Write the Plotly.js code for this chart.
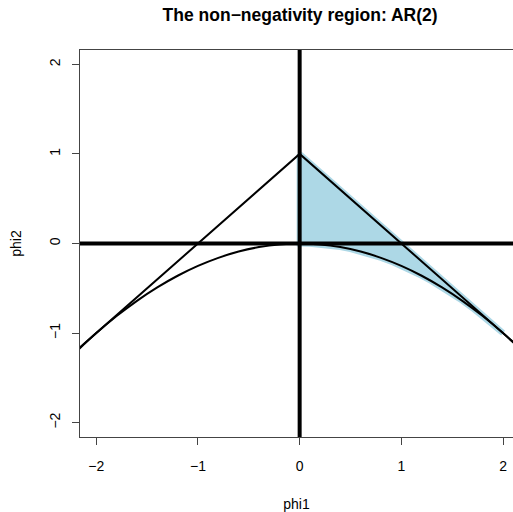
<!DOCTYPE html>
<html>
<head>
<meta charset="utf-8">
<script src="https://cdn.plot.ly/plotly-3.0.1.min.js"></script>
<style>html,body{margin:0;padding:0;background:#fff;}#chart{width:513px;height:512px;}</style>
</head>
<body>
<div id="chart"></div>
<script>
// Boundary curve phi2 = -phi1^2/4
var curveX = [-2.2,-2.0,-1.8,-1.6,-1.4,-1.2,-1.0,-0.8,-0.6,-0.4,-0.2,0,0.2,0.4,0.6,0.8,1.0,1.2,1.4,1.6,1.8,2.0,2.2];
var curveY = [-1.21,-1.0,-0.81,-0.64,-0.49,-0.36,-0.25,-0.16,-0.09,-0.04,-0.01,0,-0.01,-0.04,-0.09,-0.16,-0.25,-0.36,-0.49,-0.64,-0.81,-1.0,-1.21];
// Triangle boundary
var triX = [-2.2, 0, 2.2];
var triY = [-1.2, 1, -1.2];
// Shaded non-negativity region
var regionX = [0, 0, 0.1,0.2,0.3,0.4,0.5,0.6,0.7,0.8,0.9,1.0,1.1,1.2,1.3,1.4,1.5,1.6,1.7,1.8,1.9,2.0, 0];
var regionY = [1, 0, -0.0025,-0.01,-0.0225,-0.04,-0.0625,-0.09,-0.1225,-0.16,-0.2025,-0.25,-0.3025,-0.36,-0.4225,-0.49,-0.5625,-0.64,-0.7225,-0.81,-0.9025,-1.0, 1];
// Reference axes
var hX = [-3, 3], hY = [0, 0];
var vX = [0, 0], vY = [-3, 3];
var tickVals = [-2, -1, 0, 1, 2];

var traces = [
  {x: regionX, y: regionY, mode: 'lines', fill: 'toself', fillcolor: '#ADD8E6',
   line: {color: '#ADD8E6', width: 6}, hoverinfo: 'skip', showlegend: false},
  {x: curveX, y: curveY, mode: 'lines', line: {color: '#000', width: 2, shape: 'spline'}, showlegend: false},
  {x: triX, y: triY, mode: 'lines', line: {color: '#000', width: 2}, showlegend: false},
  {x: hX, y: hY, mode: 'lines', line: {color: '#000', width: 4}, showlegend: false},
  {x: vX, y: vY, mode: 'lines', line: {color: '#000', width: 4}, showlegend: false}
];

var axFont = {family: 'Liberation Sans, Arial, sans-serif', size: 14, color: '#000'};
function lab(v){return v<0?'\u2212'+Math.abs(v):String(v);}
var layout = {
  width: 513, height: 512,
  margin: {l: 80, r: 0, t: 50, b: 75},
  paper_bgcolor: '#fff', plot_bgcolor: '#fff',
  showlegend: false,
  title: {text: '<b>The non\u2212negativity region: AR(2)</b>', x: 0.585, xanchor: 'center', y: 0.971, yanchor: 'middle',
          font: {family: 'Liberation Sans, Arial, sans-serif', size: 17.5, color: '#000'}},
  xaxis: {range: [-2.16, 2.098], tickvals: tickVals, ticktext: tickVals.map(lab),
          showgrid: false, zeroline: false, showline: true, mirror: true, linecolor: '#444', linewidth: 1,
          ticks: 'outside', ticklen: 7, tickcolor: '#444', tickfont: axFont, ticklabelstandoff: 9,
          title: {text: 'phi1', font: axFont, standoff: 26}},
  yaxis: {range: [-2.16, 2.16], tickvals: tickVals, ticktext: tickVals.map(lab),
          showgrid: false, zeroline: false, showline: true, mirror: false, linecolor: '#444', linewidth: 1,
          ticks: 'outside', ticklen: 7, tickcolor: '#444', tickfont: axFont, tickangle: -90, ticklabelstandoff: 6,
          title: {text: 'phi2', font: axFont, standoff: 22}}
};
Plotly.newPlot('chart', traces, layout, {displayModeBar: false, staticPlot: true});
</script>
</body>
</html>
